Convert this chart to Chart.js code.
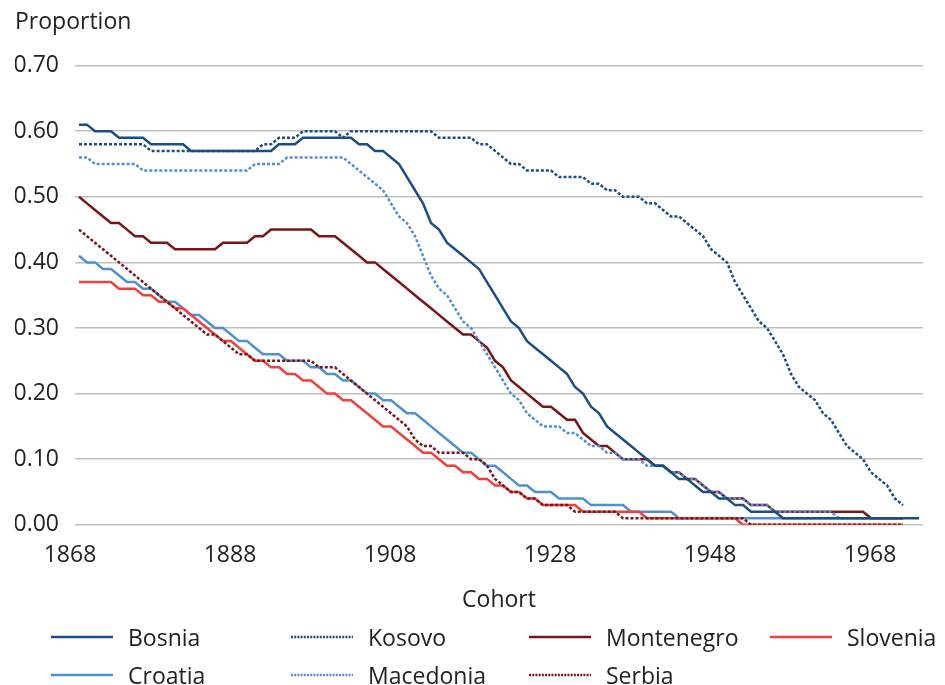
<!DOCTYPE html>
<html>
<head>
<meta charset="utf-8">
<script src="https://cdn.jsdelivr.net/npm/chart.js@4.4.1/dist/chart.umd.min.js"></script>
<style>
  html, body { margin: 0; padding: 0; background: #fff; }
  #wrap { position: relative; width: 945px; height: 685px; }
  #legend { position: absolute; left: 0; top: 0; width: 945px; height: 685px; pointer-events: none;
            font-family: "Open Sans", sans-serif; font-size: 23px; color: #222; }
  .item { position: absolute; height: 28px; line-height: 28px; white-space: nowrap; }
  .item svg { position: absolute; top: 0; }
  .item span { position: absolute; top: 0; }
</style>
</head>
<body>
<div id="wrap">
  <canvas id="c" width="945" height="685"></canvas>
  <div id="legend"></div>
</div>
<script>
const startYear = 1868;
const endYear = 1973;
const years = [];
for (let y = startYear; y <= endYear; y++) years.push(String(y));

const tickYears = ["1868", "1888", "1908", "1928", "1948", "1968"];
const yTicks = [0, 0.1, 0.2, 0.3, 0.4, 0.5, 0.6, 0.7];

const bosnia = [
  0.61,0.61,0.60,0.60,0.60,0.59,0.59,0.59,0.59,0.58,0.58,0.58,0.58,0.58,0.57,
  0.57,0.57,0.57,0.57,0.57,0.57,0.57,0.57,0.57,0.57,
  0.58,0.58,0.58,
  0.59,0.59,0.59,0.59,0.59,0.59,0.59,
  0.58,0.58,0.57,0.57,0.56,
  0.55,0.53,0.51,0.49,0.46,0.45,0.43,0.42,0.41,0.40,0.39,
  0.37,0.35,0.33,0.31,0.30,0.28,0.27,0.26,0.25,0.24,0.23,
  0.21,0.20,0.18,0.17,0.15,0.14,0.13,0.12,0.11,0.10,0.09,
  0.09,0.08,0.07,0.07,0.06,0.05,0.05,0.04,0.04,0.03,0.03,0.02,0.02,0.02,0.02,
  0.01,0.01,0.01,0.01,0.01,0.01,0.01,0.01,0.01,0.01,0.01,0.01,0.01,0.01,0.01,0.01,0.01,0.01
];

const kosovo = [
  0.58,0.58,0.58,0.58,0.58,0.58,0.58,0.58,0.58,
  0.57,0.57,0.57,0.57,0.57,0.57,0.57,0.57,0.57,0.57,0.57,0.57,0.57,0.57,
  0.58,0.58,0.59,0.59,0.59,
  0.60,0.60,0.60,0.60,0.60,
  0.59,
  0.60,0.60,0.60,0.60,0.60,0.60,0.60,0.60,0.60,0.60,0.60,
  0.59,0.59,0.59,0.59,0.59,
  0.58,0.58,0.57,0.56,0.55,0.55,
  0.54,0.54,0.54,0.54,
  0.53,0.53,0.53,0.53,
  0.52,0.52,0.51,0.51,
  0.50,0.50,0.50,
  0.49,0.49,0.48,0.47,0.47,0.46,0.45,0.44,0.42,0.41,0.40,0.37,0.35,0.33,0.31,0.30,
  0.28,0.26,0.23,0.21,0.20,0.19,0.17,0.16,0.14,0.12,0.11,0.10,0.08,0.07,0.06,0.04,0.03,
  null,null
];

const montenegro = [
  0.50,0.49,0.48,0.47,0.46,0.46,0.45,0.44,0.44,0.43,0.43,0.43,
  0.42,0.42,0.42,0.42,0.42,0.42,
  0.43,0.43,0.43,0.43,
  0.44,0.44,
  0.45,0.45,0.45,0.45,0.45,0.45,
  0.44,0.44,0.44,
  0.43,0.42,0.41,0.40,0.40,0.39,0.38,0.37,0.36,0.35,
  0.34,0.33,0.32,0.31,0.30,0.29,0.29,0.28,0.27,0.25,
  0.24,0.22,0.21,0.20,0.19,0.18,0.18,0.17,0.16,0.16,
  0.14,0.13,0.12,0.12,0.11,0.10,0.10,0.10,0.10,0.09,
  0.09,0.08,0.08,0.07,0.07,0.06,0.05,0.05,0.04,0.04,
  0.04,0.03,0.03,0.03,
  0.02,0.02,0.02,0.02,0.02,0.02,0.02,0.02,0.02,0.02,0.02,0.02,
  0.01,0.01,0.01,0.01,0.01,
  null,null
];

const slovenia = [
  0.37,0.37,0.37,0.37,0.37,0.36,0.36,0.36,
  0.35,0.35,0.34,0.34,0.33,0.33,0.32,0.31,0.30,0.29,
  0.28,0.28,0.27,0.26,0.25,0.25,0.24,0.24,0.23,0.23,
  0.22,0.22,0.21,0.20,0.20,0.19,0.19,0.18,0.17,0.16,
  0.15,0.15,0.14,0.13,0.12,0.11,0.11,0.10,0.09,0.09,
  0.08,0.08,0.07,0.07,0.06,0.06,0.05,0.05,0.04,0.04,
  0.03,0.03,0.03,0.03,0.03,
  0.02,0.02,0.02,0.02,0.02,0.02,0.02,0.02,
  0.01,0.01,0.01,0.01,0.01,0.01,0.01,0.01,0.01,0.01,0.01,0.01,
  0.00,0.00,0.00,0.00,0.00,0.00,0.00,0.00,0.00,0.00,0.00,0.00,0.00,0.00,0.00,0.00,0.00,0.00,0.00,0.00,0.00,
  null,null
];

const croatia = [
  0.41,0.40,0.40,0.39,0.39,0.38,0.37,0.37,0.36,0.36,
  0.35,0.34,0.34,0.33,0.32,0.32,0.31,0.30,0.30,0.29,
  0.28,0.28,0.27,0.26,0.26,0.26,0.25,0.25,0.25,0.24,
  0.24,0.23,0.23,0.22,0.22,0.21,0.20,0.20,0.19,0.19,
  0.18,0.17,0.17,0.16,0.15,0.14,0.13,0.12,0.11,0.11,
  0.10,0.09,0.09,0.08,0.07,0.06,0.06,0.05,0.05,0.05,
  0.04,0.04,0.04,0.04,
  0.03,0.03,0.03,0.03,0.03,
  0.02,0.02,0.02,0.02,0.02,0.02,
  0.01,0.01,0.01,0.01,0.01,0.01,0.01,0.01,0.01,0.01,0.01,0.01,0.01,0.01,0.01,
  0.01,0.01,0.01,0.01,0.01,0.01,0.01,0.01,0.01,0.01,0.01,0.01,0.01,0.01,
  null,null
];

const macedonia = [
  0.56,0.56,
  0.55,0.55,0.55,0.55,0.55,0.55,
  0.54,0.54,0.54,0.54,0.54,0.54,0.54,0.54,0.54,0.54,0.54,0.54,0.54,0.54,
  0.55,0.55,0.55,0.55,
  0.56,0.56,0.56,0.56,0.56,0.56,0.56,0.56,
  0.55,0.54,0.53,0.52,0.51,0.49,0.47,0.46,0.44,
  0.41,0.38,0.36,0.35,0.33,0.31,0.30,0.28,0.26,0.24,
  0.22,0.20,0.19,0.17,0.16,0.15,0.15,0.15,0.14,0.14,
  0.13,0.12,0.12,0.11,0.11,0.10,0.10,0.10,0.09,0.09,
  0.09,0.08,0.08,0.07,0.07,0.06,0.05,0.05,0.04,0.04,
  0.04,0.03,0.03,0.03,
  0.02,0.02,0.02,0.02,0.02,0.02,0.02,0.02,
  0.01,0.01,0.01,0.01,0.01,0.01,0.01,0.01,0.01,
  null,null
];

const serbia = [
  0.45,0.44,0.43,0.42,0.41,0.40,0.39,0.38,0.37,0.36,0.35,0.34,0.33,0.32,0.31,0.30,0.29,
  0.29,0.28,0.27,0.26,0.26,
  0.25,0.25,0.25,0.25,0.25,0.25,0.25,0.25,
  0.24,0.24,0.24,
  0.23,0.22,0.21,0.20,0.19,0.18,0.17,0.16,0.15,0.13,
  0.12,0.12,0.11,0.11,0.11,0.11,0.10,0.10,0.09,0.07,
  0.06,0.05,0.05,0.04,0.04,
  0.03,0.03,0.03,0.03,
  0.02,0.02,0.02,0.02,0.02,0.02,
  0.01,0.01,0.01,0.01,0.01,0.01,0.01,0.01,0.01,0.01,0.01,0.01,0.01,0.01,0.01,0.01,
  0.00,0.00,0.00,0.00,0.00,0.00,0.00,0.00,0.00,0.00,0.00,0.00,0.00,0.00,0.00,0.00,0.00,0.00,0.00,0.00,
  null,null
];

const DARK_BLUE = "#1a4e85";
const LIGHT_BLUE = "#4f90d2";
const DARK_RED = "#7c1519";
const RED = "#f0403b";
const DOT = [3, 2];

// legend layout order (row-major as in reference)
const legendItems = [
  { name: "Bosnia", color: DARK_BLUE, dash: false },
  { name: "Kosovo", color: DARK_BLUE, dash: true },
  { name: "Montenegro", color: DARK_RED, dash: false },
  { name: "Slovenia", color: RED, dash: false },
  { name: "Croatia", color: LIGHT_BLUE, dash: false },
  { name: "Macedonia", color: LIGHT_BLUE, dash: true },
  { name: "Serbia", color: DARK_RED, dash: true }
];

function ds(label, data, color, dashed) {
  return {
    label, data,
    borderColor: color,
    backgroundColor: color,
    borderWidth: 2.5,
    borderDash: dashed ? DOT : [],
    pointRadius: 0,
    tension: 0,
    fill: false,
    spanGaps: false
  };
}

// index 0 drawn on top
const datasets = [
  ds("Bosnia", bosnia, DARK_BLUE, false),
  ds("Kosovo", kosovo, DARK_BLUE, true),
  ds("Macedonia", macedonia, LIGHT_BLUE, true),
  ds("Serbia", serbia, DARK_RED, true),
  ds("Montenegro", montenegro, DARK_RED, false),
  ds("Slovenia", slovenia, RED, false),
  ds("Croatia", croatia, LIGHT_BLUE, false)
];

const FONT = "'Open Sans', sans-serif";
const TEXT = "#222222";

new Chart(document.getElementById("c"), {
  type: "line",
  data: { labels: years, datasets },
  options: {
    responsive: false,
    animation: false,
    events: [],
    layout: { padding: { left: 15, right: 22, top: 0, bottom: 71 } },
    plugins: {
      legend: { display: false },
      tooltip: { enabled: false },
      title: {
        display: true,
        text: "Proportion",
        align: "start",
        color: TEXT,
        font: { family: FONT, size: 23, weight: "normal" },
        padding: { top: 9, bottom: 29 }
      }
    },
    scales: {
      x: {
        type: "category",
        offset: true,
        grid: { display: false, drawTicks: false },
        border: { display: false },
        ticks: {
          autoSkip: false,
          maxRotation: 0,
          minRotation: 0,
          padding: 17,
          labelOffset: -9,
          color: TEXT,
          font: { family: FONT, size: 23 },
          callback: function (v, i) {
            const lab = this.getLabelForValue(v);
            return tickYears.includes(lab) ? lab : "";
          }
        },
        title: {
          display: true,
          text: "Cohort",
          color: TEXT,
          font: { family: FONT, size: 23 },
          padding: { top: 0, bottom: 0 }
        }
      },
      y: {
        min: 0,
        max: 0.7,
        afterBuildTicks: (scale) => { scale.ticks = yTicks.map(v => ({ value: v })); },
        afterFit: (scale) => { scale.width = 60; },
        grid: { color: "#bfbfbf", lineWidth: 1.5, drawTicks: false },
        border: { display: false },
        ticks: {
          padding: 16,
          color: TEXT,
          font: { family: FONT, size: 23 },
          callback: (v) => Number(v).toFixed(2)
        }
      }
    }
  }
});

// HTML legend
const legendEl = document.getElementById("legend");
const colX = [51, 291, 529, 770];
const rowY = [637, 675];
legendItems.forEach((it, i) => {
  const row = Math.floor(i / 4), col = i % 4;
  const div = document.createElement("div");
  div.className = "item";
  div.style.left = colX[col] + "px";
  div.style.top = (rowY[row] - 14) + "px";
  const w = 62;
  const dash = it.dash ? 'stroke-dasharray="2,1.2"' : "";
  div.innerHTML =
    `<svg width="${w}" height="28"><line x1="0" y1="14" x2="${w}" y2="14" stroke="${it.color}" stroke-width="2.5" ${dash}/></svg>` +
    `<span style="left:${77}px">${it.name}</span>`;
  legendEl.appendChild(div);
});
</script>
</body>
</html>
